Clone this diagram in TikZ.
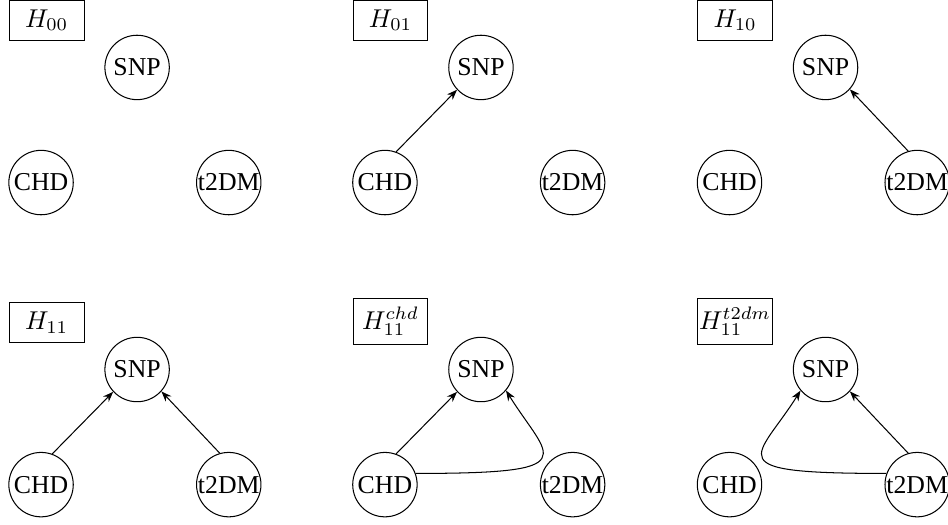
\documentclass[tikz,border=0pt]{standalone}
\usepackage{fontspec}
\setmainfont{Liberation Serif}
\usetikzlibrary{arrows.meta}
\tikzset{%
  var/.style = {draw, circle, inner sep = 0pt, minimum size = 25pt}, % Variable
  hyp/.style = {draw, rectangle, inner xsep = 0pt, inner ysep = 3.6pt,
    minimum width = 29pt, anchor = base west}, % Hypothesis
  dep/.style = {-{Stealth[length=4pt, width=3pt]}} % Dependence
}
\begin{document}
\begin{tikzpicture}
    \useasboundingbox (0, 0) rectangle (12.93, 7.16);

    %H00
    \node[hyp] (h00) at (0.12, 6.79) {$H_{00}$};
    \node[var] (snp00) at (1.87, 6.24) {SNP};
    \node[var] (chd00) at (0.56, 4.67) {CHD};
    \node[var] (t2dm00) at (3.12, 4.67) {t2DM};

    %H01
    \node[hyp] (h01) at (4.81, 6.79) {$H_{01}$};
    \node[var] (snp01) at (6.56, 6.24) {SNP};
    \node[var] (chd01) at (5.25, 4.67) {CHD};
    \node[var] (t2dm01) at (7.81, 4.67) {t2DM};
    \draw[dep] (chd01.70) -- (snp01.223);

    %H10
    \node[hyp] (h10) at (9.51, 6.79) {$H_{10}$};
    \node[var] (snp10) at (11.26, 6.24) {SNP};
    \node[var] (chd10) at (9.95, 4.67) {CHD};
    \node[var] (t2dm10) at (12.51, 4.67) {t2DM};
    \draw[dep] (t2dm10.106) -- (snp10.318);

    %H11
    \node[hyp] (h11) at (0.12, 2.67) {$H_{11}$};
    \node[var] (snp11) at (1.87, 2.12) {SNP};
    \node[var] (chd11) at (0.56, 0.55) {CHD};
    \node[var] (t2dm11) at (3.12, 0.55) {t2DM};
    \draw[dep] (chd11.70) -- (snp11.223);
    \draw[dep] (t2dm11.106) -- (snp11.318);

    %H11 chd
    \node[hyp] (h11chd) at (4.81, 2.67) {$H_{11}^{chd}$};
    \node[var] (snpchd) at (6.56, 2.12) {SNP};
    \node[var] (chdchd) at (5.25, 0.55) {CHD};
    \node[var] (t2dmchd) at (7.81, 0.55) {t2DM};
    \draw[dep] (chdchd.70) -- (snpchd.223);
    \draw[dep] (chdchd.20) to[out=0, in=-58, out distance=2.35cm, in distance=1.1cm] (snpchd.-40);

    %H11 t2dm
    \node[hyp] (h11t2dm) at (9.51, 2.67) {$H_{11}^{t2dm}$};
    \node[var] (snpt2dm) at (11.26, 2.12) {SNP};
    \node[var] (chdt2dm) at (9.95, 0.55) {CHD};
    \node[var] (t2dmt2dm) at (12.51, 0.55) {t2DM};
    \draw[dep] (t2dmt2dm.106) -- (snpt2dm.318);
    \draw[dep] (t2dmt2dm.160) to[out=180, in=-122, out distance=2.35cm, in distance=1.1cm] (snpt2dm.220);
\end{tikzpicture}
\end{document}
